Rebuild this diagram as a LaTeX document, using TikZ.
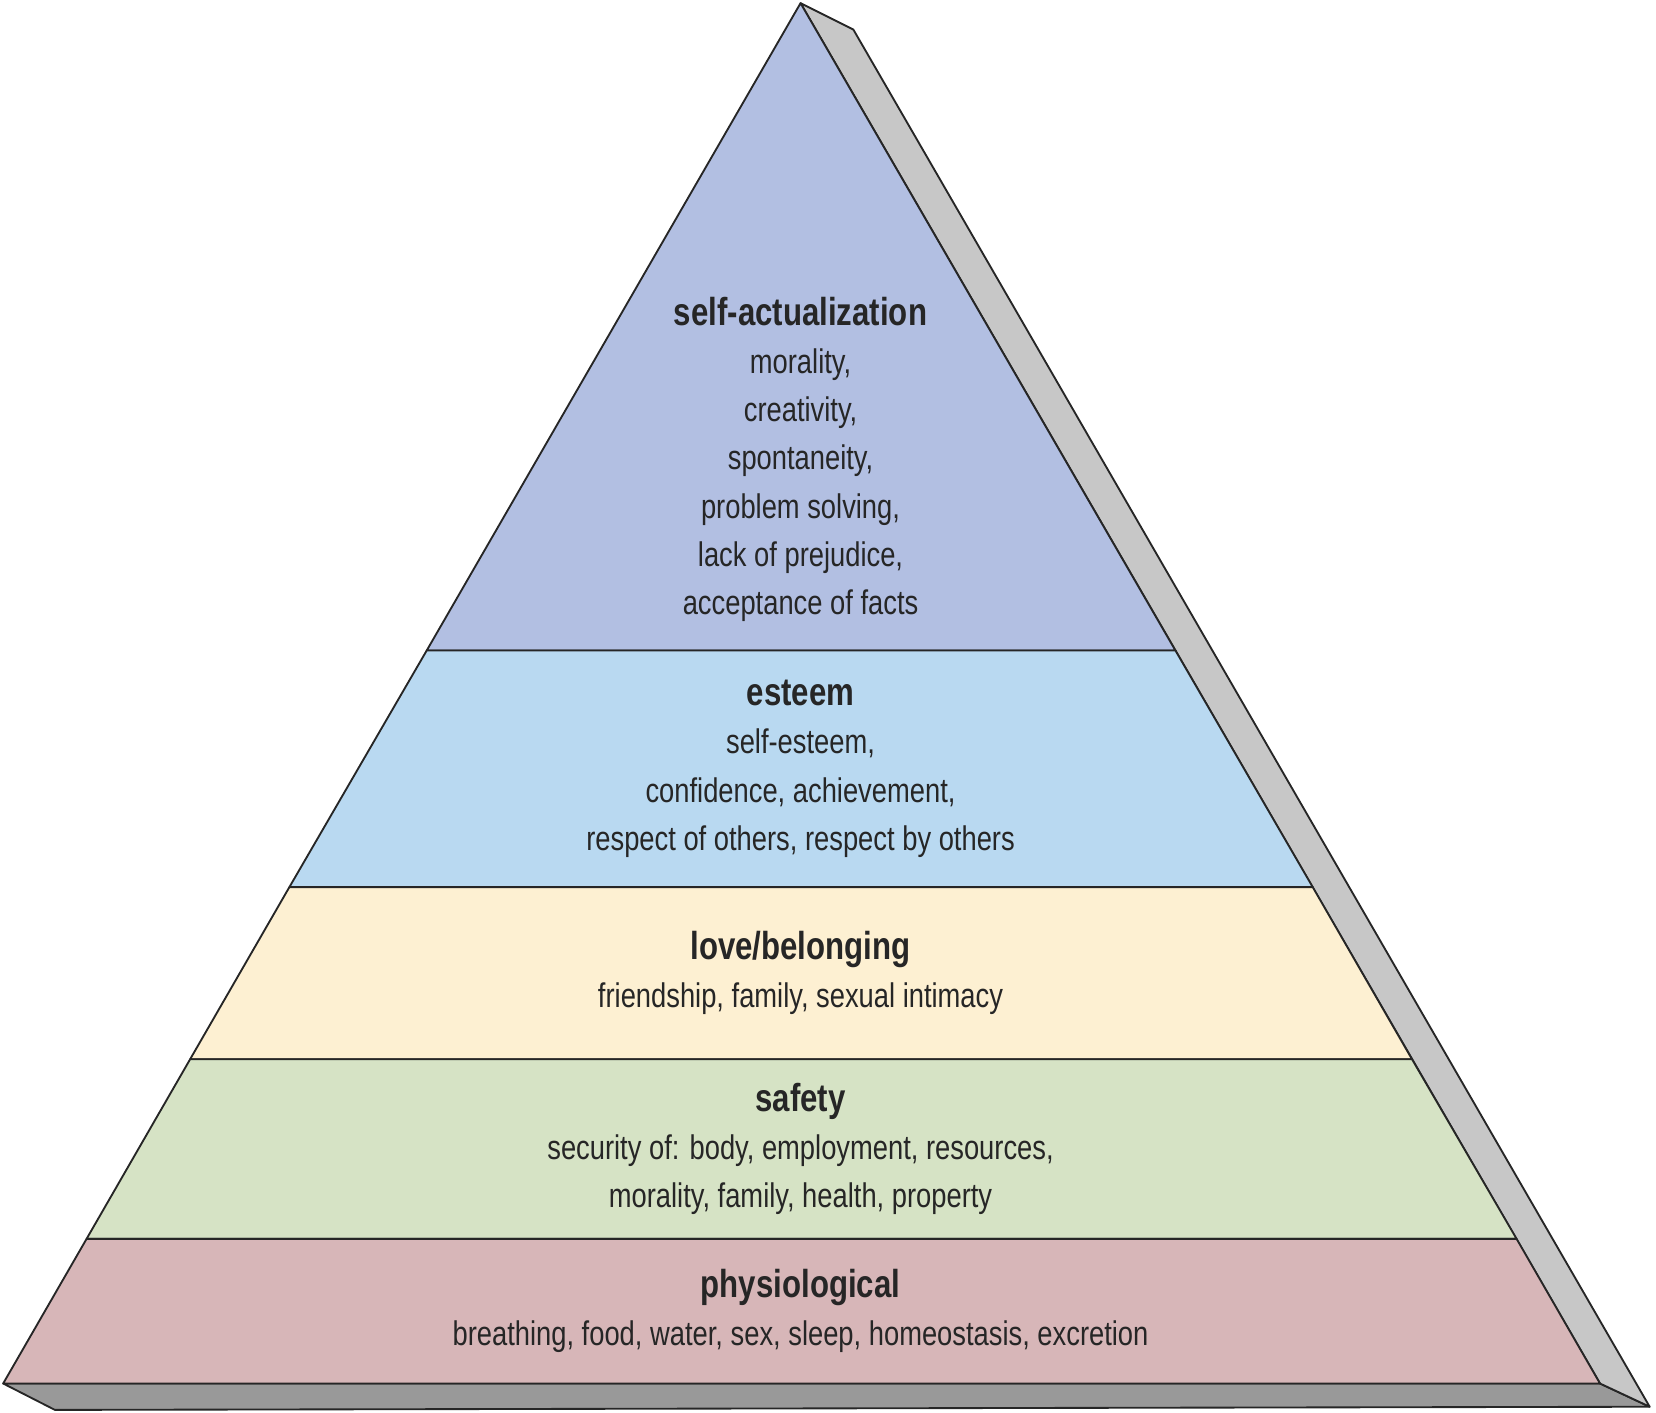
\documentclass[tikz,border=0pt]{standalone}
\usepackage{fontspec}
\setmainfont{Liberation Sans}[FakeStretch=0.8]
\newcommand{\mttl}{\fontsize{10.5pt}{13pt}\selectfont\bfseries}
\begin{document}
\begin{tikzpicture}[x=0.01cm,y=-0.01cm,
  face/.style={draw=black!85,line width=0.5pt,line join=round},
  lbl/.style={align=center,font=\fontsize{9.2pt}{13pt}\selectfont,text=black!85}]
\definecolor{cSA}{HTML}{B2BFE2}
\definecolor{cES}{HTML}{B9D9F1}
\definecolor{cLB}{HTML}{FDF0D2}
\definecolor{cSF}{HTML}{D6E3C5}
\definecolor{cPH}{HTML}{D7B6B8}
\useasboundingbox (0,0) rectangle (1568,1337);
% side faces
\draw[face,fill=black!40] (3,1310) -- (52,1335) -- (1562,1332) -- (1515,1310) -- cycle;
\draw[face,fill=black!22] (758,3) -- (808,28) -- (1562,1332) -- (1515,1310) -- cycle;
% layers
\draw[face,fill=cSA] (758,3) -- (1113,616) -- (404,616) -- cycle;
\draw[face,fill=cES] (404,616) -- (1113,616) -- (1243,840) -- (274,840) -- cycle;
\draw[face,fill=cLB] (274,840) -- (1243,840) -- (1337,1003) -- (180,1003) -- cycle;
\draw[face,fill=cSF] (180,1003) -- (1337,1003) -- (1436,1173) -- (82,1173) -- cycle;
\draw[face,fill=cPH] (82,1173) -- (1436,1173) -- (1515,1310) -- (3,1310) -- cycle;
% texts
\node[lbl] (sa) at (758,435) {{\mttl self-actualization}\\morality,\\creativity,\\spontaneity,\\problem solving,\\lack of prejudice,\\acceptance of facts};
\node[lbl] (es) at (758,728) {{\mttl esteem}\\self-esteem,\\confidence, achievement,\\respect of others, respect by others};
\node[lbl] (lb) at (758,921) {{\mttl love/belonging}\\friendship, family, sexual intimacy};
\node[lbl] (sf) at (758,1088) {{\mttl safety}\\security of: body, employment, resources,\\morality, family, health, property};
\node[lbl] (ph) at (758,1241) {{\mttl physiological}\\breathing, food, water, sex, sleep, homeostasis, excretion};
\end{tikzpicture}
\end{document}
